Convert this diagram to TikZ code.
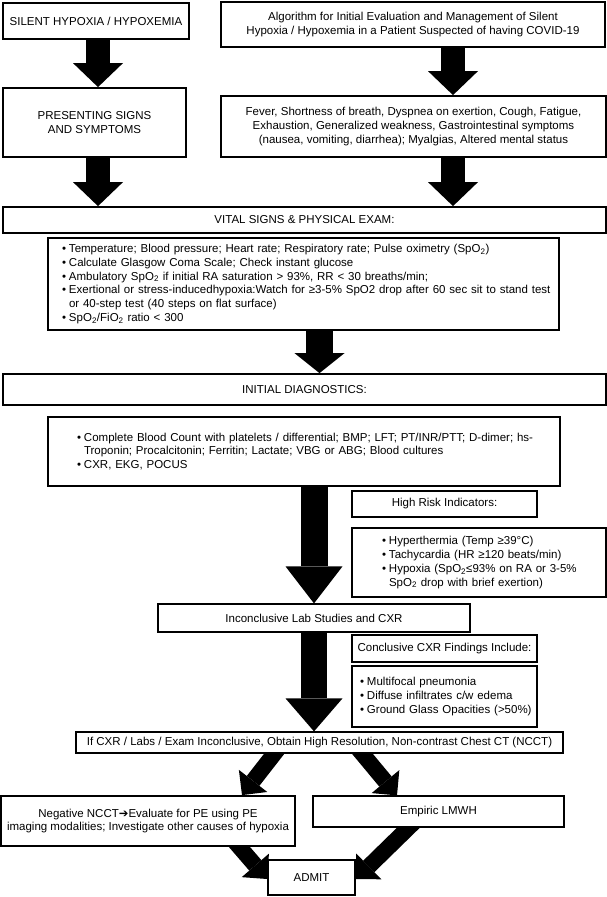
\documentclass[tikz,border=0pt]{standalone}
\usepackage{fontspec}
\setmainfont{Liberation Sans}
\newfontfamily\symfont{DejaVu Sans}
\usetikzlibrary{arrows.meta, backgrounds}
\newcommand{\spo}{SpO\textsubscript{2}}
\newcommand{\fio}{FiO\textsubscript{2}}
\newcommand{\bitem}[1]{\mbox{\makebox[7pt][l]{•}#1}}
\newcommand{\citem}[1]{\mbox{\hspace*{7pt}#1}}

\begin{document}
\begin{tikzpicture}[x=1pt, y=-1pt,
    box/.style={draw, fill=white, line width=1.2pt, inner sep=0pt, align=center,
                font=\fontsize{11.5}{13.8}\selectfont},
    heavy/.style={box, line width=1.8pt},
    sz/.style 2 args={minimum width=#1pt, minimum height=#2pt},
    list/.style 2 args={align=left, inner xsep=#2pt, text width=#1pt-2*#2pt},
    fat/.style n args={3}{line width=#1pt,
                          -{Triangle[width=#2pt, length=#3pt, line width=0pt]}}]
\useasboundingbox (0,0) rectangle (607,897);

% top row
\node[heavy, sz={186}{36}] (sil) at (96,21) {SILENT HYPOXIA / HYPOXEMIA};
\node[heavy, sz={384}{45}] (alg) at (413,24.5)
    {Algorithm for Initial Evaluation and Management of Silent\\
     Hypoxia / Hypoxemia in a Patient Suspected of having COVID-19};
\node[heavy, sz={183}{69}] (pres) at (94.5,122.5) {PRESENTING SIGNS\\AND SYMPTOMS};
\node[heavy, sz={385}{61}] (sym) at (413.5,126.5)
    {Fever, Shortness of breath, Dyspnea on exertion, Cough, Fatigue,\\
     Exhaustion, Generalized weakness, Gastrointestinal symptoms\\
     (nausea, vomiting, diarrhea); Myalgias, Altered mental status};

% vital signs
\node[heavy, sz={603}{26}] (vit) at (304.5,220) {VITAL SIGNS \& PHYSICAL EXAM:};
\node[box, sz={511}{92}, list={511}{14}] (vitl) at (303.5,284)
    {\bitem{Temperature; Blood pressure; Heart rate; Respiratory rate; Pulse oximetry (\spo)}\\
     \bitem{Calculate Glasgow Coma Scale; Check instant glucose}\\
     \bitem{Ambulatory \spo{} if initial RA saturation > 93\%, RR < 30 breaths/min;}\\
     \bitem{Exertional or stress-inducedhypoxia:Watch for ≥3-5\% SpO2 drop after 60 sec sit to stand test}\\
     \citem{or 40-step test (40 steps on flat surface)}\\
     \bitem{\spo/\fio{} ratio < 300}};

% diagnostics
\node[heavy, sz={603}{31}] (diag) at (304.5,389.5) {INITIAL DIAGNOSTICS:};
\node[box, sz={512}{69}, list={512}{29}] (diagl) at (304,451.5)
    {\bitem{Complete Blood Count with platelets / differential; BMP; LFT; PT/INR/PTT; D-dimer; hs-}\\
     \citem{Troponin; Procalcitonin; Ferritin; Lactate; VBG or ABG; Blood cultures}\\
     \bitem{CXR, EKG, POCUS}};
\node[box, sz={185}{26}] (risk) at (444.5,504) {High Risk Indicators:};
\node[heavy, sz={254}{69}, list={254}{30}] (riskl) at (479,562.5)
    {\bitem{Hyperthermia (Temp ≥39°C)}\\
     \bitem{Tachycardia (HR ≥120 beats/min)}\\
     \bitem{Hypoxia (\spo≤93\% on RA or 3-5\%}\\
     \citem{\spo{} drop with brief exertion)}};
\node[box, sz={312}{28}] (inc) at (314,618) {Inconclusive Lab Studies and CXR};
\node[box, sz={185}{27}] (cxr) at (444.5,648.5) {Conclusive CXR Findings Include:};
\node[box, sz={185}{61}, list={185}{8}] (cxrl) at (444.5,696.5)
    {\bitem{Multifocal pneumonia}\\
     \bitem{Diffuse infiltrates c/w edema}\\
     \bitem{Ground Glass Opacities (>50\%)}};

% chest CT and outcome
\node[box, sz={487}{21}] (ct) at (319.5,742.5)
    {If CXR / Labs / Exam Inconclusive, Obtain High Resolution, Non-contrast Chest CT (NCCT)};
\node[heavy, sz={294}{50}] (neg) at (148,821)
    {Negative NCCT{\symfont ➔}Evaluate for PE using PE\\
     imaging modalities; Investigate other causes of hypoxia};
\node[box, sz={251}{31}] (lmwh) at (438.5,811.5) {Empiric LMWH};
\node[heavy, sz={87}{35}] (adm) at (311.5,877.5) {ADMIT};

\coordinate (lc) at (98,0);
\coordinate (rc) at (453,0);
\coordinate (mc) at (319.5,0);
\coordinate (cc) at (314,0);

\begin{scope}[on background layer]
\draw[fat={24}{50}{24}] (sil.south -| lc) -- (pres.north -| lc);
\draw[fat={24}{50}{24}] (alg.south -| rc) -- (sym.north -| rc);
\draw[fat={24}{50}{24}] (pres.south -| lc) -- (vit.north -| lc);
\draw[fat={24}{50}{24}] (sym.south -| rc) -- (vit.north -| rc);
\draw[fat={27}{50}{20}] (vitl.south -| mc) -- (diag.north -| mc);
\draw[fat={27}{57}{37}] (diagl.south -| cc) -- (inc.north -| cc);
\draw[fat={26}{57}{33}] (inc.south -| cc) -- (ct.north -| cc);
\draw[fat={16}{36}{18}] (ct.center -| 283,0) -- (neg.north -| 242,0);
\draw[fat={16}{36}{18}] (ct.center -| 353,0) -- (lmwh.north -| 397,0);
\draw[fat={16}{36}{18}] (neg.center -| 217,0) -- (adm.west |- 0,879);
\draw[fat={16}{36}{18}] (lmwh.center -| 425,0) -- (adm.east |- 0,879);
\end{scope}
\end{tikzpicture}
\end{document}
